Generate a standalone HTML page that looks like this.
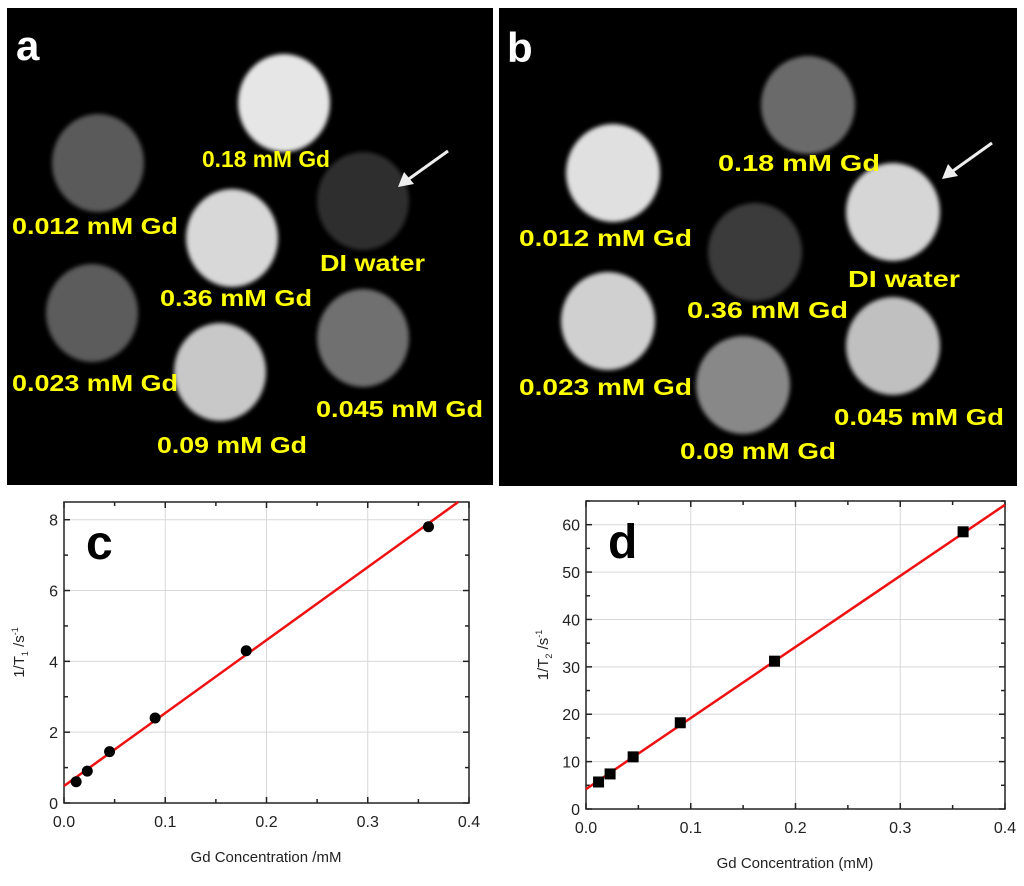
<!DOCTYPE html>
<html><head><meta charset="utf-8"><style>
html,body{margin:0;padding:0;background:#fff;}
svg{display:block;font-family:"Liberation Sans",Arial,sans-serif;}
.lbl{fill:#ffff00;font-weight:bold;font-size:23px;}
.tick{font-size:16px;fill:#222;}
</style></head><body>
<svg id="fig" width="1024" height="886" viewBox="0 0 1024 886">
<defs>
<filter id="blur" x="-20%" y="-20%" width="140%" height="140%"><feGaussianBlur stdDeviation="2"/></filter>
</defs>
<g>
<rect x="7" y="8" width="486" height="477" fill="#000"/>
<g filter="url(#blur)">
<ellipse cx="284" cy="103" rx="46" ry="49" fill="#e6e6e6"/>
<ellipse cx="98" cy="163" rx="46" ry="49" fill="#5a5a5a"/>
<ellipse cx="363" cy="201" rx="46" ry="49" fill="#2e2e2e"/>
<ellipse cx="232" cy="238" rx="46" ry="49" fill="#d8d8d8"/>
<ellipse cx="92" cy="313" rx="46" ry="49" fill="#5c5c5c"/>
<ellipse cx="363" cy="338" rx="46" ry="49" fill="#707070"/>
<ellipse cx="220" cy="372" rx="46" ry="49" fill="#c8c8c8"/>
</g>
<text x="16" y="60" fill="#fff" font-weight="bold" font-size="42">a</text>
<text class="lbl" x="202" y="167" textLength="128" lengthAdjust="spacingAndGlyphs">0.18 mM Gd</text>
<text class="lbl" x="12" y="234" textLength="166" lengthAdjust="spacingAndGlyphs">0.012 mM Gd</text>
<text class="lbl" x="320" y="271" textLength="105" lengthAdjust="spacingAndGlyphs">DI water</text>
<text class="lbl" x="160" y="306" textLength="152" lengthAdjust="spacingAndGlyphs">0.36 mM Gd</text>
<text class="lbl" x="12" y="391" textLength="166" lengthAdjust="spacingAndGlyphs">0.023 mM Gd</text>
<text class="lbl" x="316" y="417" textLength="167" lengthAdjust="spacingAndGlyphs">0.045 mM Gd</text>
<text class="lbl" x="157" y="453" textLength="150" lengthAdjust="spacingAndGlyphs">0.09 mM Gd</text>
<g><line x1="448" y1="151" x2="406" y2="181" stroke="#eee" stroke-width="3"/><polygon points="398,187 404,172 414,184" fill="#eee"/></g>
</g>
<g>
<rect x="499" y="8" width="518" height="478" fill="#000"/>
<g filter="url(#blur)">
<ellipse cx="808" cy="105" rx="47" ry="49" fill="#6a6a6a"/>
<ellipse cx="613" cy="173" rx="47" ry="49" fill="#e0e0e0"/>
<ellipse cx="893" cy="212" rx="47" ry="49" fill="#d6d6d6"/>
<ellipse cx="755" cy="252" rx="47" ry="49" fill="#3a3a3a"/>
<ellipse cx="608" cy="321" rx="47" ry="49" fill="#d0d0d0"/>
<ellipse cx="893" cy="346" rx="47" ry="49" fill="#c0c0c0"/>
<ellipse cx="743" cy="385" rx="47" ry="49" fill="#888"/>
</g>
<text x="507" y="62" fill="#fff" font-weight="bold" font-size="42">b</text>
<text class="lbl" x="718" y="171" textLength="162" lengthAdjust="spacingAndGlyphs">0.18 mM Gd</text>
<text class="lbl" x="519" y="246" textLength="173" lengthAdjust="spacingAndGlyphs">0.012 mM Gd</text>
<text class="lbl" x="848" y="287" textLength="112" lengthAdjust="spacingAndGlyphs">DI water</text>
<text class="lbl" x="687" y="318" textLength="161" lengthAdjust="spacingAndGlyphs">0.36 mM Gd</text>
<text class="lbl" x="519" y="395" textLength="173" lengthAdjust="spacingAndGlyphs">0.023 mM Gd</text>
<text class="lbl" x="834" y="425" textLength="170" lengthAdjust="spacingAndGlyphs">0.045 mM Gd</text>
<text class="lbl" x="680" y="459" textLength="156" lengthAdjust="spacingAndGlyphs">0.09 mM Gd</text>
<g><line x1="992" y1="143" x2="950" y2="173" stroke="#eee" stroke-width="3"/><polygon points="942,179 948,164 958,176" fill="#eee"/></g>
</g>
<g id="chartC"></g>
<g id="chartD"></g>
</svg>
<script>
const concC = [0.012, 0.023, 0.045, 0.09, 0.18, 0.36];
const r1Values = [0.6, 0.9, 1.45, 2.4, 4.3, 7.8];
const fitC = [0.48, 20.6]; // intercept, slope
const xTicksC = ["0.0","0.1","0.2","0.3","0.4"];
const yTicksC = ["0","2","4","6","8"];

const concD = [0.012, 0.023, 0.045, 0.09, 0.18, 0.36];
const r2Values = [5.7, 7.4, 11, 18.2, 31.2, 58.5];
const fitD = [4.2, 150];
const xTicksD = ["0.0","0.1","0.2","0.3","0.4"];
const yTicksD = ["0","10","20","30","40","50","60"];

const NS = "http://www.w3.org/2000/svg";
function mk(parent, tag, attrs, text){
  const e = document.createElementNS(NS, tag);
  for (const k in attrs) e.setAttribute(k, attrs[k]);
  if (text !== undefined) e.textContent = text;
  parent.appendChild(e); return e;
}
function drawChart(g, cfg){
  const {x0,x1,y0,y1,xmax,ymax,xs,ys,fit,xt,yt,marker,letter,sub,xlab,xlabX,ylabX} = cfg;
  const X = v => x0 + v / xmax * (x1 - x0);
  const Y = v => y1 - v / ymax * (y1 - y0);
  xt.forEach(t => { const v = +t; if (v > 0 && v < xmax) {
    const l = mk(g,"line",{x1:X(v),x2:X(v),y1:y0,y2:y1,stroke:"#d8d8d8","stroke-width":1});
    
     } });
  yt.forEach(t => { const v = +t; if (v > 0) {
    const l = mk(g,"line",{x1:x0,x2:x1,y1:Y(v),y2:Y(v),stroke:"#d8d8d8","stroke-width":1});
    
     } });
  for (let i = 0; i < xt.length; i++) {
    const v = +xt[i];
    [v, v + (+xt[1]) / 2].forEach((tv, j) => { if (tv <= xmax) {
      const len = j ? 4 : 6;
      mk(g,"line",{x1:X(tv),x2:X(tv),y1:y1,y2:y1-len,stroke:"#222","stroke-width":1.5});
      mk(g,"line",{x1:X(tv),x2:X(tv),y1:y0,y2:y0+len,stroke:"#222","stroke-width":1.5}); } });
    const t = mk(g,"text",{x:X(v),y:y1+24,"text-anchor":"middle",class:"tick"}, xt[i]);
    
    
  }
  const ystep = (+yt[1]);
  for (let i = 0; i < yt.length; i++) {
    const v = +yt[i];
    [v, v + ystep / 2].forEach((tv, j) => { if (tv <= ymax) {
      const len = j ? 4 : 6;
      mk(g,"line",{x1:x0,x2:x0+len,y1:Y(tv),y2:Y(tv),stroke:"#222","stroke-width":1.5});
      mk(g,"line",{x1:x1,x2:x1-len,y1:Y(tv),y2:Y(tv),stroke:"#222","stroke-width":1.5}); } });
    const t = mk(g,"text",{x:x0-6,y:Y(v)+6,"text-anchor":"end",class:"tick"}, yt[i]);
    
    
  }
  const frame = mk(g,"rect",{x:x0,y:y0,width:x1-x0,height:y1-y0,fill:"none",stroke:"#222","stroke-width":1.5});
  
  
  let xa = 0, xb = xmax;
  if (fit[0] + fit[1]*xb > ymax) xb = (ymax - fit[0]) / fit[1];
  const fl = mk(g,"line",{x1:X(xa),y1:Y(fit[0]+fit[1]*xa),x2:X(xb),y2:Y(fit[0]+fit[1]*xb),stroke:"#ee1111","stroke-width":2.5});
  
  
  xs.forEach((xv, i) => {
    let m;
    if (marker === "circle") m = mk(g,"circle",{cx:X(xv),cy:Y(ys[i]),r:5.5,fill:"#000"});
    else m = mk(g,"rect",{x:X(xv)-5.5,y:Y(ys[i])-5.5,width:11,height:11,fill:"#000"});
    
    
  });
  const lt = mk(g,"text",{x:x0+22,y:y0+57,"font-size":48,"font-weight":"bold",fill:"#000"}, letter);
  
  
  const xl = mk(g,"text",{x:xlabX,y:y1+59,"text-anchor":"middle","font-size":15,fill:"#222"}, xlab);
  
  
  const yl = mk(g,"text",{transform:`translate(${ylabX},${(y0+y1)/2}) rotate(-90)`,"text-anchor":"middle","font-size":15,fill:"#222"});
  
  
  mk(yl,"tspan",{},"1/T");
  mk(yl,"tspan",{"font-size":9,dy:4},sub);
  mk(yl,"tspan",{dy:-4}," /s");
  mk(yl,"tspan",{"font-size":9,dy:-6},"-1");
}
drawChart(document.getElementById("chartC"), {x0:64,x1:469,y0:502,y1:803,xmax:0.4,ymax:8.5,
  xs:concC,ys:r1Values,fit:fitC,xt:xTicksC,yt:yTicksC,marker:"circle",letter:"c",sub:"1",
  xlab:"Gd Concentration /mM",xlabX:266,ylabX:24});
drawChart(document.getElementById("chartD"), {x0:586,x1:1005,y0:501,y1:809,xmax:0.4,ymax:65,
  xs:concD,ys:r2Values,fit:fitD,xt:xTicksD,yt:yTicksD,marker:"square",letter:"d",sub:"2",
  xlab:"Gd Concentration (mM)",xlabX:795,ylabX:548});
</script>
</body></html>
